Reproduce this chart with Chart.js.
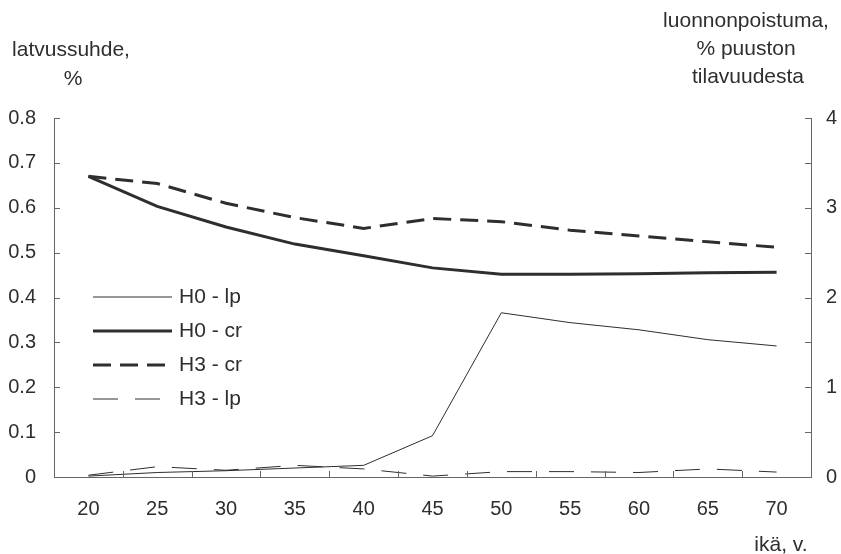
<!DOCTYPE html>
<html>
<head>
<meta charset="utf-8">
<script src="https://cdn.jsdelivr.net/npm/chart.js@4/dist/chart.umd.min.js"></script>
<style>
  html, body { margin: 0; padding: 0; background: #fff; }
  #wrap { width: 841px; height: 554px; }
</style>
</head>
<body>
<div id="wrap"><canvas id="latvus" width="841" height="554"></canvas></div>
<script>
const ages = ['20', '25', '30', '35', '40', '45', '50', '55', '60', '65', '70'];
// luonnonpoistuma, % (right axis)
const h0_lp = [0.01, 0.05, 0.07, 0.10, 0.13, 0.46, 1.83, 1.72, 1.64, 1.53, 1.46];
const h3_lp = [0.02, 0.115, 0.075, 0.13, 0.09, 0.01, 0.06, 0.06, 0.05, 0.09, 0.055];
// latvussuhde (left axis)
const h0_cr = [0.670, 0.603, 0.557, 0.519, 0.493, 0.466, 0.452, 0.452, 0.453, 0.455, 0.456];
const h3_cr = [0.670, 0.654, 0.610, 0.578, 0.554, 0.576, 0.569, 0.550, 0.537, 0.524, 0.512];

const ink = '#2e2e2e';
const axisInk = '#666666';
const fontFam = '"Liberation Sans", Arial, Helvetica, sans-serif';

const ctx = document.getElementById('latvus').getContext('2d');

// inner tick marks, legend inside plot, axis titles
const extras = {
    id: 'extras',
    afterDraw(chart) {
        const c = chart.ctx;
        const area = chart.chartArea;
        const sx = chart.scales.x, sy = chart.scales.y, sy2 = chart.scales.y2;
        c.save();
        c.strokeStyle = axisInk;
        c.lineWidth = 1;
        c.beginPath();
        sy.ticks.forEach(t => {
            const py = Math.round(sy.getPixelForValue(t.value)) + 0.5;
            c.moveTo(area.left, py);
            c.lineTo(area.left + 6, py);
        });
        sy2.ticks.forEach(t => {
            const py = Math.round(sy2.getPixelForValue(t.value)) + 0.5;
            c.moveTo(area.right, py);
            c.lineTo(area.right - 6, py);
        });
        for (let i = 0; i < ages.length - 1; i++) {
            const px = Math.round((sx.getPixelForValue(i) + sx.getPixelForValue(i + 1)) / 2) + 0.5;
            c.moveTo(px, area.bottom);
            c.lineTo(px, area.bottom - 6);
        }
        c.stroke();

        // legend
        c.font = '21px ' + fontFam;
        c.fillStyle = ink;
        c.textBaseline = 'middle';
        c.textAlign = 'left';
        chart.data.datasets.forEach((ds, i) => {
            const ly = 297 + i * 34;
            c.strokeStyle = ds.borderColor;
            c.lineWidth = ds.borderWidth;
            c.setLineDash(ds.borderDash || []);
            c.beginPath();
            c.moveTo(93, ly);
            c.lineTo(172, ly);
            c.stroke();
            c.setLineDash([]);
            c.fillText(ds.label, 179, ly);
        });

        // axis titles
        c.textAlign = 'center';
        c.fillText('latvussuhde,', 71, 50);
        c.fillText('%', 73, 79);
        c.fillText('luonnonpoistuma,', 746, 21);
        c.fillText('% puuston', 746, 49);
        c.fillText('tilavuudesta', 748, 77);
        c.fillText('ikä, v.', 781, 545);
        c.restore();
    }
};

const chart = new Chart(ctx, {
    type: 'line',
    data: {
        labels: ages,
        datasets: [
            {
                label: 'H0 - lp',
                data: h0_lp,
                yAxisID: 'y2',
                borderColor: ink,
                borderWidth: 1,
                pointRadius: 0,
                tension: 0
            },
            {
                label: 'H0 - cr',
                data: h0_cr,
                yAxisID: 'y',
                borderColor: ink,
                borderWidth: 3,
                pointRadius: 0,
                tension: 0
            },
            {
                label: 'H3 - cr',
                data: h3_cr,
                yAxisID: 'y',
                borderColor: ink,
                borderWidth: 3,
                borderDash: [18, 9],
                pointRadius: 0,
                tension: 0
            },
            {
                label: 'H3 - lp',
                data: h3_lp,
                yAxisID: 'y2',
                borderColor: ink,
                borderWidth: 1,
                borderDash: [25, 17],
                pointRadius: 0,
                tension: 0
            }
        ]
    },
    options: {
        responsive: false,
        animation: false,
        layout: {
            padding: { top: 118, left: 0, right: 0, bottom: 0 }
        },
        plugins: {
            legend: { display: false },
            tooltip: { enabled: false }
        },
        scales: {
            x: {
                offset: true,
                grid: { display: false },
                border: { display: true, color: axisInk, width: 1 },
                ticks: {
                    color: ink,
                    font: { family: fontFam, size: 20 },
                    padding: 12,
                    maxRotation: 0
                },
                afterFit(scale) { scale.height = 77; }
            },
            y: {
                position: 'left',
                min: 0,
                max: 0.8,
                grid: { display: false },
                border: { display: true, color: axisInk, width: 1 },
                ticks: {
                    stepSize: 0.1,
                    color: ink,
                    font: { family: fontFam, size: 20 },
                    padding: 10,
                    callback: v => v === 0 ? '0' : v.toFixed(1)
                },
                afterFit(scale) { scale.width = 54; }
            },
            y2: {
                position: 'right',
                min: 0,
                max: 4,
                grid: { display: false },
                border: { display: true, color: axisInk, width: 1 },
                ticks: {
                    stepSize: 0.5,
                    color: ink,
                    font: { family: fontFam, size: 20 },
                    padding: 7,
                    callback: v => Number.isInteger(v) ? String(v) : ''
                },
                afterFit(scale) { scale.width = 30; }
            }
        }
    },
    plugins: [extras]
});
</script>
</body>
</html>
